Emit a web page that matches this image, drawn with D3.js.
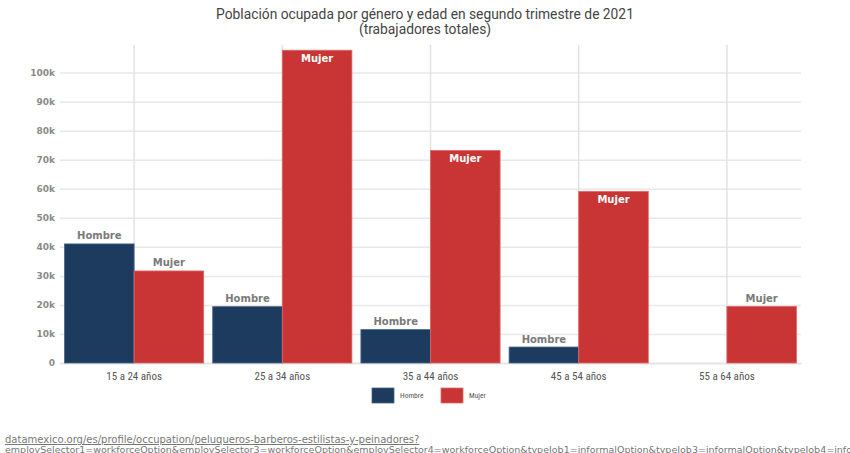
<!DOCTYPE html>
<html>
<head>
<meta charset="utf-8">
<script src="https://cdn.jsdelivr.net/npm/d3@7"></script>
<style>
  html, body { margin: 0; padding: 0; background: #fff; }
  svg { display: block; }
</style>
</head>
<body>
<svg id="chart" width="850" height="453"></svg>
<script>
// Población ocupada por género y grupo de edad (segundo trimestre 2021)
const categories = ["15 a 24 años", "25 a 34 años", "35 a 44 años", "45 a 54 años", "55 a 64 años"];
const series = ["Hombre", "Mujer"];
const hombre = [41000, 19400, 11500, 5500, null];
const mujer  = [31700, 107700, 73200, 59100, 19500];
const yTicks = [0, 10000, 20000, 30000, 40000, 50000, 60000, 70000, 80000, 90000, 100000];
const yMax = 109500;
const colors = { Hombre: "#1d3b5f", Mujer: "#c93434" };
const strokes = { Hombre: "#4a6585", Mujer: "#e06a6a" };
const titleLines = ["Población ocupada por género y edad en segundo trimestre de 2021", "(trabajadores totales)"];
const sourceLines = [
  "datamexico.org/es/profile/occupation/peluqueros-barberos-estilistas-y-peinadores?",
  "employSelector1=workforceOption&employSelector3=workforceOption&employSelector4=workforceOption&typeJob1=informalOption&typeJob3=informalOption&typeJob4=info"
];
const sourceSizes = [10, 9.5];

const svg = d3.select("#chart");
const plot = { left: 60, right: 801, top: 45, bottom: 363 };
const narrow = "'Liberation Sans Narrow', 'Roboto Condensed', 'Roboto', sans-serif";
const wide = "'DejaVu Sans', 'Verdana', sans-serif";

const x = d3.scaleBand().domain(categories).range([plot.left, plot.right]).padding(0);
const xs = d3.scaleBand().domain(series).range([4.5, x.bandwidth() - 4.5]).padding(0);
const y = d3.scaleLinear().domain([0, yMax]).range([plot.bottom, plot.top]);

// title
svg.append("g").selectAll("text").data(titleLines).join("text")
  .attr("x", 425).attr("y", (d, i) => 19 + i * 14.5)
  .attr("text-anchor", "middle")
  .attr("font-family", "Roboto, sans-serif").attr("font-size", 13.8).attr("fill", "#444")
  .text(d => d);

// horizontal gridlines + y labels
const yAxis = d3.axisLeft(y).tickValues(yTicks)
  .tickFormat(d => d === 0 ? "0" : (d / 1000) + "k")
  .tickSize(-(plot.right - plot.left)).tickPadding(5);
const gy = svg.append("g").attr("transform", `translate(${plot.left},0)`).call(yAxis);
gy.select(".domain").remove();
gy.selectAll(".tick line").attr("stroke", "#e8e8e8").attr("stroke-width", 1.5);
gy.selectAll(".tick text").attr("font-family", wide).attr("font-size", 9)
  .attr("font-weight", "bold").attr("fill", "#8a8a8a");

// vertical gridlines at category centres
svg.append("g").selectAll("line").data(categories).join("line")
  .attr("x1", d => x(d) + x.bandwidth() / 2).attr("x2", d => x(d) + x.bandwidth() / 2)
  .attr("y1", plot.top).attr("y2", plot.bottom)
  .attr("stroke", "#e2e2e2").attr("stroke-width", 1.5);

// x axis
const xAxis = d3.axisBottom(x).tickSize(0).tickPadding(9);
const gx = svg.append("g").attr("transform", `translate(0,${plot.bottom})`).call(xAxis);
gx.select(".domain").attr("stroke", "#e2e2e2").attr("stroke-width", 1.5);
gx.selectAll(".tick text").attr("font-family", narrow).attr("font-size", 11).attr("fill", "#555");

// bars
const rows = [];
categories.forEach((c, i) => {
  rows.push({ cat: c, key: "Hombre", value: hombre[i] });
  rows.push({ cat: c, key: "Mujer", value: mujer[i] });
});
const data = rows.filter(d => d.value != null);

const bars = svg.append("g");
bars.selectAll("rect").data(data).join("rect")
  .attr("x", d => x(d.cat) + xs(d.key))
  .attr("y", d => y(d.value))
  .attr("width", xs.bandwidth())
  .attr("height", d => y(0) - y(d.value))
  .attr("fill", d => colors[d.key])
  .attr("stroke", d => strokes[d.key]).attr("stroke-width", 0.8);

// bar labels: inside for tall bars, above otherwise
const inside = d => d.value > 50000;
bars.selectAll("text").data(data).join("text")
  .attr("x", d => x(d.cat) + xs(d.key) + xs.bandwidth() / 2)
  .attr("y", d => inside(d) ? y(d.value) + 12 : y(d.value) - 4.5)
  .attr("text-anchor", "middle")
  .attr("font-family", wide).attr("font-size", 10).attr("font-weight", "bold")
  .attr("fill", d => inside(d) ? "#fff" : "#7a7a7a")
  .text(d => d.key);

// legend
const legend = svg.append("g").selectAll("g").data(series).join("g")
  .attr("transform", (d, i) => `translate(${372 + i * 69},388)`);
legend.append("rect").attr("width", 22).attr("height", 15)
  .attr("fill", d => colors[d]).attr("stroke", d => strokes[d]).attr("stroke-width", 0.8);
legend.append("text").attr("x", 28).attr("y", 10)
  .attr("font-family", narrow).attr("font-size", 7.5).attr("fill", "#555")
  .text(d => d);

// source link
svg.append("g").selectAll("text").data(sourceLines).join("text")
  .attr("x", 5).attr("y", (d, i) => 443 + i * 9.5)
  .attr("font-family", wide).attr("font-size", (d, i) => sourceSizes[i]).attr("fill", "#777")
  .attr("text-decoration", "underline")
  .text(d => d);
</script>
</body>
</html>
